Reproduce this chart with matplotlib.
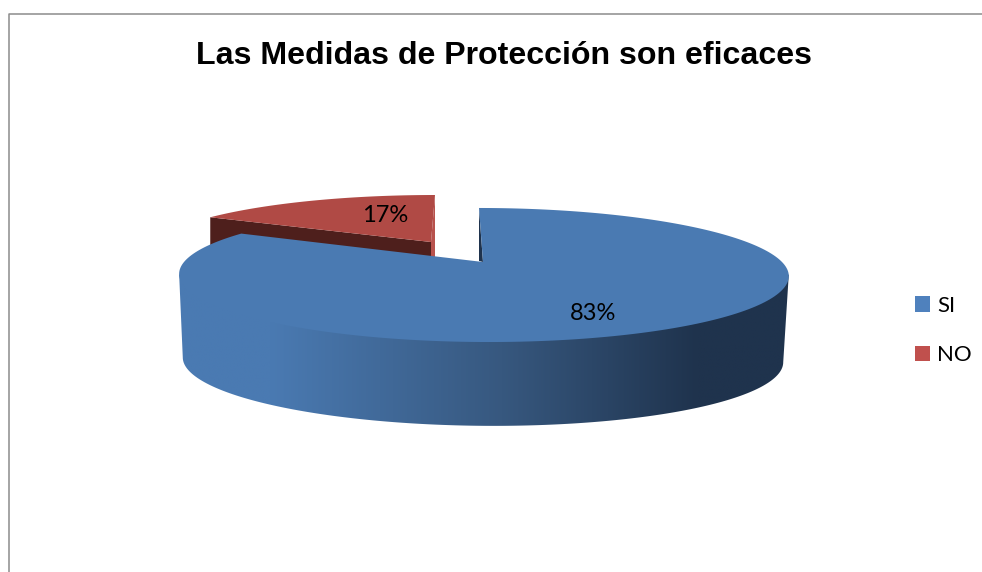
import numpy as np
import matplotlib
matplotlib.use("Agg")
import matplotlib.pyplot as plt
from matplotlib.colors import LinearSegmentedColormap
from matplotlib.patches import Patch, Polygon

# Data
TITLE = "Las Medidas de Protección son eficaces"
categories = ["SI", "NO"]
values = [83, 17]

# Colours
BLUE_TOP = "#4a7ab2"
RED_TOP = "#b04a45"
RED_WALL = "#4e1f1c"
RED_EDGE = "#b8524d"
BLUE_CUT = "#1f334d"
LEGEND_COLORS = ["#4f81bd", "#c0504d"]

# Fake 3D camera, everything is in pixels of the 982x572 picture
K = 0.194  # perspective strength
Q = 299  # half width of the pie
P = 64.5  # half height of the pie
BLUE_APEX = (483, 262)
RED_APEX = (431, 242)
DEPTH = 85
LEAN = -0.074  # the far side of the blue slice leans left


def project(theta, apex, sx=1.0, sy=1.0, tilt=0.0, lean=LEAN):
    u = np.sin(theta)
    v = np.cos(theta)
    d = 1 + K * v
    x = u * Q * sx / d
    y = v * P * sy / d
    return apex[0] + x + lean * y, apex[1] - y + tilt * x


def rim(t0, t1, apex, **kw):
    t = np.linspace(t0, t1, 240)
    x, y = project(t, apex, **kw)
    return np.column_stack([x, y])


# slice angles come from the values, clockwise from 12 o'clock
split = 2 * np.pi * values[0] / sum(values)

fig = plt.figure(figsize=(9.82, 5.72), dpi=100)
ax = fig.add_axes([0, 0, 1, 1])
ax.set_xlim(0, 982)
ax.set_ylim(572, 0)
ax.axis("off")

# chart frame, right and bottom are cut off in the original
ax.plot([9.5, 9.5, 982], [572, 13.5, 13.5], color="#8c8c8c", lw=1.1)

# red slice, pulled out behind the blue one
red_kw = dict(sx=0.93, sy=0.87, lean=0.085)
red_arc = rim(split, 2 * np.pi, RED_APEX, **red_kw)
tip = red_arc[0]
corner = red_arc[-1]
ax.add_patch(Polygon([tip, RED_APEX, (RED_APEX[0], RED_APEX[1] + 70), (tip[0], tip[1] + 70)],
                     color=RED_WALL, lw=0))
ax.add_patch(Polygon([RED_APEX, corner, (corner[0], corner[1] + 70), (RED_APEX[0], RED_APEX[1] + 70)],
                     color=RED_EDGE, lw=0))
ax.add_patch(Polygon(np.vstack([red_arc, [RED_APEX]]), color=RED_TOP, lw=0))

# outer wall of the blue slice, with the dark gradient to the right
# its upper edge runs a little under the top surface so no seam shows
t_ext = np.arccos(-K)
bottom_apex = (BLUE_APEX[0], BLUE_APEX[1] + DEPTH)
right_end = np.array(project(t_ext, BLUE_APEX))
left_end = np.array(project(2 * np.pi - t_ext, BLUE_APEX))
top_front = rim(t_ext, 2 * np.pi - t_ext, (BLUE_APEX[0], BLUE_APEX[1] - 6), sx=0.98, lean=0.0)
bot_front = rim(2 * np.pi - t_ext, t_ext, bottom_apex, sx=0.985, sy=0.985, tilt=0.008, lean=0.0)
wall = Polygon(np.vstack([[right_end], top_front, [left_end], bot_front]),
               transform=ax.transData, fc="none", lw=0)
ax.add_patch(wall)
shade = LinearSegmentedColormap.from_list(
    "shade",
    [(0, BLUE_TOP), (0.15, BLUE_TOP), (0.53, "#37587f"), (0.85, BLUE_CUT), (1, BLUE_CUT)],
)
im = ax.imshow(np.linspace(0, 1, 256).reshape(1, -1), cmap=shade, aspect="auto",
               extent=(178, 790, 440, 250), interpolation="bilinear")
im.set_clip_path(wall)
ax.set_xlim(0, 982)
ax.set_ylim(572, 0)

# small visible piece of the cut wall at 12 o'clock
blue_arc = rim(0, split, BLUE_APEX)
ax.add_patch(Polygon([blue_arc[0], BLUE_APEX, (blue_arc[0][0], BLUE_APEX[1] - 1)], color=BLUE_CUT, lw=0))

# blue top surface
ax.add_patch(Polygon(np.vstack([blue_arc, [BLUE_APEX]]), color=BLUE_TOP, lw=0))

# labels
ax.text(593, 313, f"{values[0]}%", ha="center", va="center", fontsize=17, family="Lato", color="black")
ax.text(385, 216, f"{values[1]}%", ha="center", va="center", fontsize=17, family="Lato", color="black")

ax.text(504, 56, TITLE, ha="center", va="center", fontsize=23.1, fontweight="bold",
        family="Liberation Sans", color="black")

handles = [Patch(color=c, lw=0) for c in LEGEND_COLORS]
ax.legend(handles, categories, loc="center left", bbox_to_anchor=(0.9318, 0.4222), frameon=False,
          prop={"family": "Lato", "size": 16}, handlelength=0.68, handleheight=0.68,
          handletextpad=0.3, labelspacing=1.335, borderpad=0, borderaxespad=0)

fig.savefig("out.png", dpi=100)
